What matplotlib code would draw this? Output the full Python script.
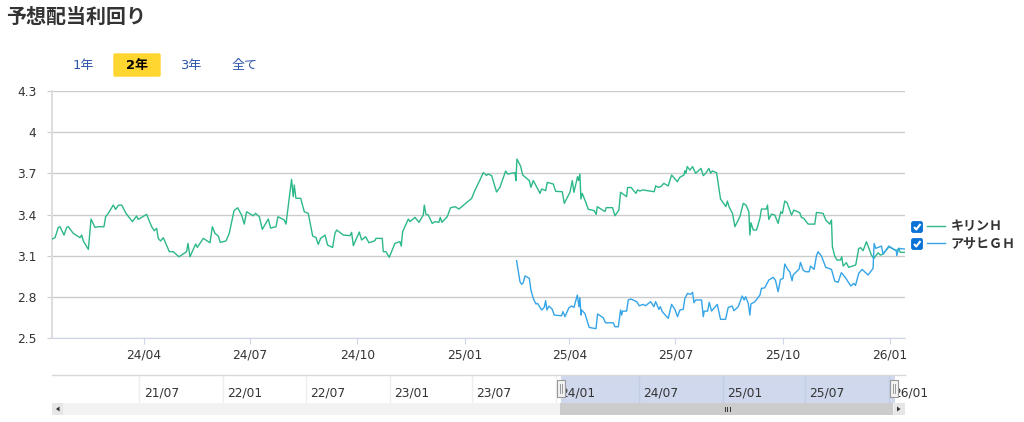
import matplotlib
matplotlib.use('Agg')
import matplotlib.pyplot as plt
import pandas as pd
from matplotlib.patches import FancyBboxPatch, Rectangle, Polygon

plt.rcParams['font.family'] = ['Noto Sans CJK JP', 'DejaVu Sans']
latin_first = ['DejaVu Sans', 'Noto Sans CJK JP']

title = '予想配当利回り'
range_buttons = ['1年', '2年', '3年', '全て']
series_names = ['キリンＨ', 'アサヒＧＨ']

# days counted from the left edge of the selected range
start_date = pd.Timestamp('2024-01-13')
end_date = pd.Timestamp('2026-01-14')

kirin_days = [0, 2.6, 5.4, 6.9, 10.3, 12.6, 14, 18.3, 24, 25.5, 26.9, 31.2, 33.5, 36.9, 39.8, 44.6, 46, 48.3,
              52.6, 54.6, 56.9, 59.8, 63.5, 69, 72.6, 74, 81.2, 85.5, 87.8, 89.8, 91.2, 93.2, 95.5, 100.7,
              104, 109, 115.5, 116.7, 118.4, 123.3, 124.7, 129.8, 135.6, 137.6, 139.9, 142.7, 144.4, 149.3,
              152.1, 156.2, 159.3, 162.7, 165, 167, 172.7, 174.7, 177.9, 180.5, 185.6, 187.6, 192.2, 193.9,
              199.3, 200.8, 205.6, 207, 207.9, 209.3, 213.4, 216.5, 219.9, 223.7, 226.5, 228.5, 230.5,
              234.3, 236.5, 240.8, 242.8, 244.3, 250, 255.7, 257.1, 258.6, 263.7, 265.7, 269.1, 272, 277.1,
              278, 283.4, 284.3, 286.6, 289.4, 294.3, 298.6, 299.7, 300.9, 305.8, 307.2, 311.5, 314.9, 318.6,
              319.5, 320.9, 322.9, 326.3, 328.6, 332, 333.2, 334.6, 339.2, 342, 345.8, 349.2, 360.1, 362.4,
              367.2, 370.1, 372.9, 374.4, 377.3, 381.5, 384.4, 389.3, 391, 397.3, 398.1, 399, 402.1, 403.9,
              409.6, 411, 413, 418.1, 418.7, 420.2, 423.6, 425, 430.2, 432.2, 437.9, 439.6, 444.5, 446.5,
              447.9, 451, 451.9, 453, 453.9, 455, 458.2, 460.2, 465.3, 467, 467.9, 474.5, 475.6, 481, 483.1,
              486.5, 487.9, 493.1, 493.9, 496.8, 501.1, 502.5, 504.5, 506.8, 514.5, 516.8, 518, 520.3, 522.5,
              525.1, 528.8, 531.7, 536.6, 538.8, 542.3, 543.1, 544, 545.1, 547.4, 549.7, 552.3, 556.9, 558.9,
              560.9, 563.7, 565.2, 566.6, 570.3, 571.7, 573.7, 578.3, 579.5, 581.2, 584, 586, 590.3, 593.2,
              595.5, 598, 598.9, 599.8, 601.8, 604.6, 607.5, 608.8, 613.1, 614, 615.1, 617.4, 620.3, 623.1,
              625.4, 626.8, 628.8, 630.8, 634.6, 636.6, 641.7, 643.1, 645.1, 648.9, 654.6, 656, 658.3, 661.7,
              664, 667.4, 668.9, 669.7, 671.7, 673.7, 676.6, 677.7, 678.9, 681.7, 683.7, 689.7, 692.3, 694,
              696, 698.9, 703.2, 705.2, 708.9, 710.9, 713.2, 718.3, 724.6, 726.6, 728, 731.8]
kirin_yield = [3.221, 3.231, 3.306, 3.311, 3.250, 3.306, 3.311, 3.262, 3.231, 3.250, 3.207, 3.146, 3.367, 3.306,
               3.311, 3.311, 3.384, 3.408, 3.469, 3.437, 3.467, 3.469, 3.408, 3.348, 3.389, 3.364, 3.401, 3.311,
               3.282, 3.299, 3.226, 3.207, 3.231, 3.129, 3.129, 3.092, 3.129, 3.190, 3.092, 3.185, 3.160, 3.226,
               3.194, 3.311, 3.262, 3.243, 3.197, 3.207, 3.262, 3.428, 3.449, 3.396, 3.330, 3.420, 3.391, 3.408,
               3.384, 3.292, 3.367, 3.301, 3.311, 3.384, 3.360, 3.330, 3.656, 3.530, 3.615, 3.518, 3.518, 3.420,
               3.408, 3.243, 3.233, 3.182, 3.226, 3.250, 3.177, 3.160, 3.262, 3.287, 3.250, 3.246, 3.270, 3.173,
               3.272, 3.214, 3.238, 3.194, 3.209, 3.226, 3.226, 3.129, 3.129, 3.088, 3.190, 3.202, 3.170, 3.275,
               3.367, 3.348, 3.379, 3.343, 3.396, 3.469, 3.401, 3.396, 3.335, 3.348, 3.343, 3.379, 3.343, 3.384,
               3.449, 3.457, 3.440, 3.517, 3.566, 3.651, 3.705, 3.685, 3.695, 3.683, 3.564, 3.598, 3.717, 3.695,
               3.705, 3.647, 3.804, 3.753, 3.688, 3.647, 3.598, 3.647, 3.566, 3.554, 3.586, 3.574, 3.634, 3.622,
               3.569, 3.566, 3.481, 3.562, 3.647, 3.562, 3.676, 3.647, 3.695, 3.513, 3.554, 3.486, 3.438, 3.428,
               3.401, 3.457, 3.421, 3.450, 3.450, 3.391, 3.433, 3.562, 3.530, 3.596, 3.598, 3.554, 3.579, 3.571,
               3.579, 3.569, 3.566, 3.608, 3.598, 3.603, 3.627, 3.608, 3.688, 3.639, 3.671, 3.688, 3.719, 3.700,
               3.749, 3.724, 3.749, 3.700, 3.736, 3.683, 3.700, 3.736, 3.700, 3.717, 3.705, 3.627, 3.513, 3.457,
               3.498, 3.452, 3.408, 3.311, 3.384, 3.481, 3.469, 3.421, 3.251, 3.340, 3.287, 3.287, 3.372, 3.440,
               3.440, 3.469, 3.364, 3.403, 3.396, 3.335, 3.420, 3.408, 3.498, 3.486, 3.396, 3.432, 3.413, 3.379,
               3.372, 3.330, 3.330, 3.415, 3.413, 3.408, 3.360, 3.330, 3.360, 3.165, 3.097, 3.068, 3.068, 3.092,
               3.024, 3.049, 3.015, 3.032, 3.153, 3.158, 3.136, 3.202, 3.104, 3.080, 3.121, 3.104, 3.112, 3.165,
               3.136, 3.153, 3.124, 3.124]

asahi_days = [398.7, 401.6, 403, 404.4, 405.9, 409.6, 411, 413, 415.3, 416.7, 420.2, 422.4, 423.6, 424.7, 426.4,
              429.3, 431, 437.3, 438.5, 440.2, 443.6, 445.9, 447.9, 450.8, 452.2, 453, 453.9, 454.5, 457.3, 461,
              466.8, 468.2, 473, 475, 481.6, 483.1, 486, 487.9, 488.8, 489.6, 493.1, 494.5, 496.8, 501.7, 504,
              507.4, 509.4, 513.7, 516.5, 518, 520.8, 522, 523.7, 528.8, 531.7, 534.5, 536.8, 538.8, 541.7, 543.1,
              545.4, 548, 549.7, 550.9, 552.3, 557.4, 558.9, 559.7, 562.6, 564, 566, 570.9, 573.7, 578, 580.3,
              583.7, 585.2, 588.9, 592.3, 594, 595.2, 597.5, 598.9, 599.8, 603.2, 607.5, 608.8, 611.7, 615.1,
              618.8, 620.8, 623.1, 625.1, 627.4, 628.8, 631.7, 633.1, 635.1, 636, 641.1, 642.3, 644.6, 646.8,
              649.7, 650.9, 654, 656, 657.4, 660.3, 664, 668.9, 671.7, 674.6, 677.4, 680.3, 685.5, 688, 689.5,
              692.3, 695.2, 700.3, 704.6, 705.5, 706.9, 711.8, 713.2, 718.1, 724.6, 724.9, 726.6, 731.8]
asahi_yield = [3.063, 2.910, 2.891, 2.903, 2.952, 2.935, 2.850, 2.789, 2.748, 2.752, 2.704, 2.723, 2.772, 2.704,
               2.733, 2.709, 2.667, 2.662, 2.692, 2.655, 2.721, 2.733, 2.723, 2.813, 2.728, 2.794, 2.667, 2.704,
               2.679, 2.577, 2.568, 2.675, 2.648, 2.611, 2.611, 2.582, 2.582, 2.704, 2.667, 2.696, 2.696, 2.777,
               2.784, 2.765, 2.735, 2.745, 2.735, 2.765, 2.728, 2.765, 2.709, 2.728, 2.692, 2.643, 2.745, 2.709,
               2.655, 2.704, 2.709, 2.789, 2.825, 2.818, 2.833, 2.757, 2.777, 2.777, 2.655, 2.696, 2.696, 2.760,
               2.696, 2.745, 2.636, 2.636, 2.723, 2.733, 2.699, 2.728, 2.806, 2.777, 2.801, 2.752, 2.667, 2.748,
               2.765, 2.813, 2.861, 2.866, 2.922, 2.942, 2.922, 2.837, 2.927, 2.934, 3.039, 2.995, 2.983, 2.917,
               2.959, 3.002, 3.051, 2.995, 2.983, 2.983, 3.024, 3.000, 3.099, 3.129, 3.097, 3.015, 3.000, 2.915,
               2.905, 2.976, 2.947, 2.879, 2.898, 2.883, 2.971, 3.000, 2.959, 3.007, 3.189, 3.153, 3.170, 3.112,
               3.170, 3.134, 3.100, 3.153, 3.148]

y_ticks = [2.5, 2.8, 3.1, 3.4, 3.7, 4, 4.3]
x_tick_dates = ['2024-04-01', '2024-07-01', '2024-10-01', '2025-01-01', '2025-04-01', '2025-07-01', '2025-10-01', '2026-01-01']
x_tick_labels = ['24/04', '24/07', '24/10', '25/01', '25/04', '25/07', '25/10', '26/01']
nav_tick_dates = ['2021-07-01', '2022-01-01', '2022-07-01', '2023-01-01', '2023-07-01', '2024-01-01', '2024-07-01', '2025-01-01', '2025-07-01', '2026-01-01']
nav_tick_labels = ['21/07', '22/01', '22/07', '23/01', '23/07', '24/01', '24/07', '25/01', '25/07', '26/01']

green = '#2db88a'
blue = '#35a5e8'
W, H = 1024, 422


def add_axes_px(fig, left, top, right, bottom):
    return fig.add_axes([left / W, 1 - bottom / H, (right - left) / W, (bottom - top) / H])


fig = plt.figure(figsize=(W / 100, H / 100), dpi=100, facecolor='white')

# main chart
ax = add_axes_px(fig, 52, 91, 905, 338)
kirin_x = start_date + pd.to_timedelta(kirin_days, unit='D')
asahi_x = start_date + pd.to_timedelta(asahi_days, unit='D')
ax.plot(kirin_x, kirin_yield, color=green, lw=1.0, zorder=3)
ax.plot(asahi_x, asahi_yield, color=blue, lw=1.0, zorder=3)
ax.set_xlim(start_date, end_date)
ax.set_ylim(2.5, 4.3)
ax.set_yticks(y_ticks)
ax.set_yticklabels([str(v) for v in y_ticks], family='DejaVu Sans')
ax.set_xticks(pd.to_datetime(x_tick_dates))
ax.set_xticklabels(x_tick_labels, family='DejaVu Sans')
ax.grid(True, axis='y', color='#cccccc', lw=1.0)
ax.set_axisbelow(True)
ax.tick_params(axis='y', length=3.6, color='#cccccc', width=0.8, pad=7.5, labelsize=8.8, labelcolor='#333333')
ax.tick_params(axis='x', length=4.3, color='#ccd6eb', width=0.8, pad=3.5, labelsize=8.8, labelcolor='#333333')
for side in ['top', 'right']:
    ax.spines[side].set_visible(False)
ax.spines['left'].set_color('#dddddd')
ax.spines['left'].set_linewidth(1.4)
ax.spines['bottom'].set_color('#ccd6eb')
ax.spines['bottom'].set_linewidth(0.8)

# navigator strip under the chart
nav = add_axes_px(fig, 52, 375, 905, 403)
nav_start = pd.Timestamp('2020-12-21')
nav_end = pd.Timestamp('2026-02-05')
nav.set_xlim(nav_start, nav_end)
nav.set_ylim(0, 1)
nav.axvspan(start_date, end_date, color='#cfd8ec', lw=0, zorder=1)
nav.set_yticks([])
nav.set_xticks([])
for d, label in zip(pd.to_datetime(nav_tick_dates), nav_tick_labels):
    selected = start_date <= d <= end_date
    nav.axvline(d, color='#c3cee6' if selected else '#eeeeee', lw=1.0, zorder=2)
    nav.annotate(label, (d, 0), xytext=(3.0, 2.5), textcoords='offset points', fontsize=8.8, color='#333333',
                 family='DejaVu Sans', ha='left', va='bottom', annotation_clip=False, zorder=3)
for side in ['left', 'right', 'bottom']:
    nav.spines[side].set_visible(False)
nav.spines['top'].set_color('#d8d8d8')
nav.spines['top'].set_linewidth(1.0)

# page furniture, drawn in pixel coordinates
ui = fig.add_axes([0, 0, 1, 1], zorder=10)
ui.set_xlim(0, W)
ui.set_ylim(H, 0)
ui.axis('off')
ui.patch.set_alpha(0)

ui.text(6, 16, title, fontsize=14.4, fontweight='bold', color='#333333', ha='left', va='center')

ui.add_patch(FancyBboxPatch((113.5, 53.5), 47, 23, boxstyle='round,pad=0,rounding_size=2', fc='#ffd530', ec='#ffdf60', lw=0.6))
for cx, label in zip([83, 137, 191, 245], range_buttons):
    active = label == '2年'
    ui.text(cx, 66, label, fontsize=9.4, ha='center', va='center', family=latin_first,
            color='black' if active else '#2f56a8', fontweight='bold' if active else 'normal')

# legend with check boxes
for cy, name, col in zip([227, 244], series_names, [green, blue]):
    ui.add_patch(FancyBboxPatch((911.5, cy - 5.5), 11, 11, boxstyle='round,pad=0,rounding_size=2', fc='#0a72d6', ec='#0a72d6', lw=0.6))
    ui.plot([914, 916.3, 920.5], [cy, cy + 2.5, cy - 3], color='white', lw=1.5, solid_capstyle='butt')
    ui.plot([927, 945], [cy - 1, cy - 1], color=col, lw=1.0)
    ui.text(951, cy - 0.5, name, fontsize=9.4, fontweight='bold', color='#333333', ha='left', va='center')

# scrollbar
ui.add_patch(Rectangle((52, 403), 853, 12, fc='#f2f2f2', ec='none'))
ui.add_patch(Rectangle((560, 403), 333, 12, fc='#cccccc', ec='none'))
ui.add_patch(Rectangle((52, 403), 11, 12, fc='#e6e6e6', ec='none'))
ui.add_patch(Rectangle((894, 403), 11, 12, fc='#e6e6e6', ec='none'))
ui.add_patch(Polygon([(59.5, 406.5), (59.5, 411.5), (56, 409)], fc='#333333', ec='none'))
ui.add_patch(Polygon([(897, 406.5), (897, 411.5), (900.5, 409)], fc='#333333', ec='none'))
for gx in [724.5, 727, 729.5]:
    ui.plot([gx, gx], [406.5, 411], color='#333333', lw=0.7)

# navigator handles
for hx in [560.5, 893.5]:
    ui.add_patch(Rectangle((hx - 4, 380), 8, 17, fc='#f2f2f2', ec='#999999', lw=0.8))
    for gx in [hx - 1, hx + 1]:
        ui.plot([gx, gx], [384, 393], color='#999999', lw=0.7)

fig.savefig('out.png', dpi=100)
